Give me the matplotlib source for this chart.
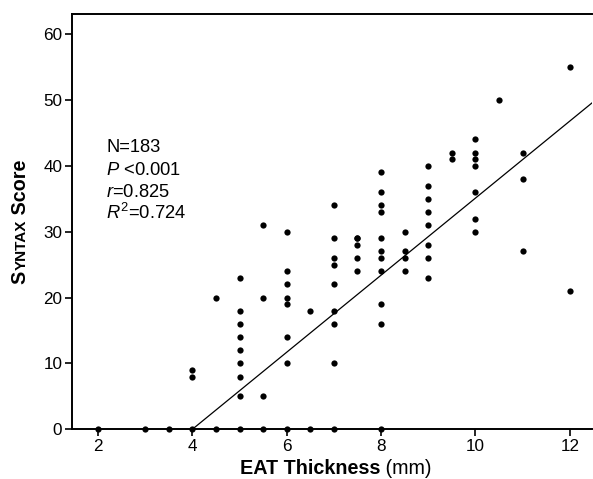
import matplotlib
matplotlib.use("Agg")
import matplotlib.pyplot as plt
import numpy as np

plt.rcParams['font.family'] = ['Liberation Sans', 'DejaVu Sans']
plt.rcParams['mathtext.fontset'] = 'custom'
plt.rcParams['mathtext.rm'] = 'Liberation Sans'
plt.rcParams['mathtext.it'] = 'Liberation Sans:italic'
plt.rcParams['mathtext.bf'] = 'Liberation Sans:bold'

# EAT thickness (mm) groups and SYNTAX scores
eat_levels = [2, 3, 3.5, 4, 4.5, 5, 5.5, 6, 6.5, 7, 7.5, 8, 8.5, 9, 9.5, 10, 10.5, 11, 12]
syntax_scores = [
    [0],
    [0],
    [0],
    [0, 8, 9],
    [0, 20],
    [0, 5, 8, 10, 12, 14, 16, 18, 23],
    [0, 5, 20, 31],
    [0, 10, 14, 19, 20, 22, 24, 30],
    [0, 18],
    [0, 10, 16, 18, 22, 25, 26, 29, 34],
    [24, 26, 28, 29, 29],
    [0, 16, 19, 24, 26, 27, 29, 33, 34, 36, 39],
    [24, 26, 27, 30],
    [23, 26, 28, 31, 33, 35, 37, 40],
    [41, 42],
    [30, 32, 36, 40, 41, 42, 44],
    [50],
    [27, 38, 42],
    [21, 55],
]
fit_slope = 5.85
fit_intercept = -23.4
stats_lines = ["N=183", "$P$ <0.001", "$r$=0.825", "$R^2$=0.724"]
x_ticks = [2, 4, 6, 8, 10, 12]
y_ticks = [0, 10, 20, 30, 40, 50, 60]

W, H = 593, 479
fig = plt.figure(figsize=(W / 100, H / 100), dpi=100)
ax = fig.add_axes([72 / W, 1 - 429.3 / H, (592 - 72) / W, (429.3 - 14) / H])

xs = np.concatenate([[x] * len(s) for x, s in zip(eat_levels, syntax_scores)])
ys = np.concatenate([np.array(s, dtype=float) for s in syntax_scores])
ax.plot(xs, ys, 'o', color='black', markersize=4.5, markeredgewidth=0,
        clip_on=False, zorder=3)

xmin, xmax = 1.45, 12.47
x0 = -fit_intercept / fit_slope
xl = np.array([x0, xmax])
ax.plot(xl, fit_slope * xl + fit_intercept, color='black', linewidth=0.9, zorder=2)

ax.set_xlim(xmin, xmax)
ax.set_ylim(0, 63.05)
ax.set_xticks(x_ticks)
ax.set_yticks(y_ticks)
ax.tick_params(axis='both', direction='out', length=5, width=1.2,
               labelsize=12.3, pad=2, colors='black')
for side in ['left', 'bottom', 'top']:
    ax.spines[side].set_linewidth(1.4)
ax.spines['right'].set_visible(False)

# stats text
px_per_unit = (429.3 - 34) / 60
baselines_px = [152.3, 174.5, 196.7, 219]
for txt, by in zip(stats_lines, baselines_px):
    ax.text(2.18, (429.3 - by) / px_per_unit, txt, fontsize=13.2,
            ha='left', va='baseline')

fig.canvas.draw()
renderer = fig.canvas.get_renderer()

def width_of(s, **kw):
    t = fig.text(0, 0, s, **kw)
    w = t.get_window_extent(renderer).width
    t.remove()
    return w

# x label: bold part + regular part
xfs = 14.2
xparts = [("EAT Thickness", 'bold'), (" (mm)", 'normal')]
widths = [width_of(s, fontsize=xfs, fontweight=fw) for s, fw in xparts]
total = sum(widths)
cx = (240 + 432) / 2
xpos = cx - total / 2
for (s, fw), w in zip(xparts, widths):
    fig.text(xpos / W, 1 - 474.5 / H, s, fontsize=xfs, fontweight=fw,
             ha='left', va='baseline')
    xpos += w

# y label in small caps: S + YNTAX + Score
yparts = [("S", 14.2), ("YNTAX", 11.0), (" Score", 14.2)]
ywidths = [width_of(s, fontsize=fs, fontweight='bold') for s, fs in yparts]
ypos = 221.5 + sum(ywidths) / 2
for (s, fs), w in zip(yparts, ywidths):
    fig.text(25.5 / W, 1 - ypos / H, s, fontsize=fs, fontweight='bold',
             rotation=90, rotation_mode='anchor', ha='left', va='baseline')
    ypos -= w

fig.savefig("out.png", dpi=100)
